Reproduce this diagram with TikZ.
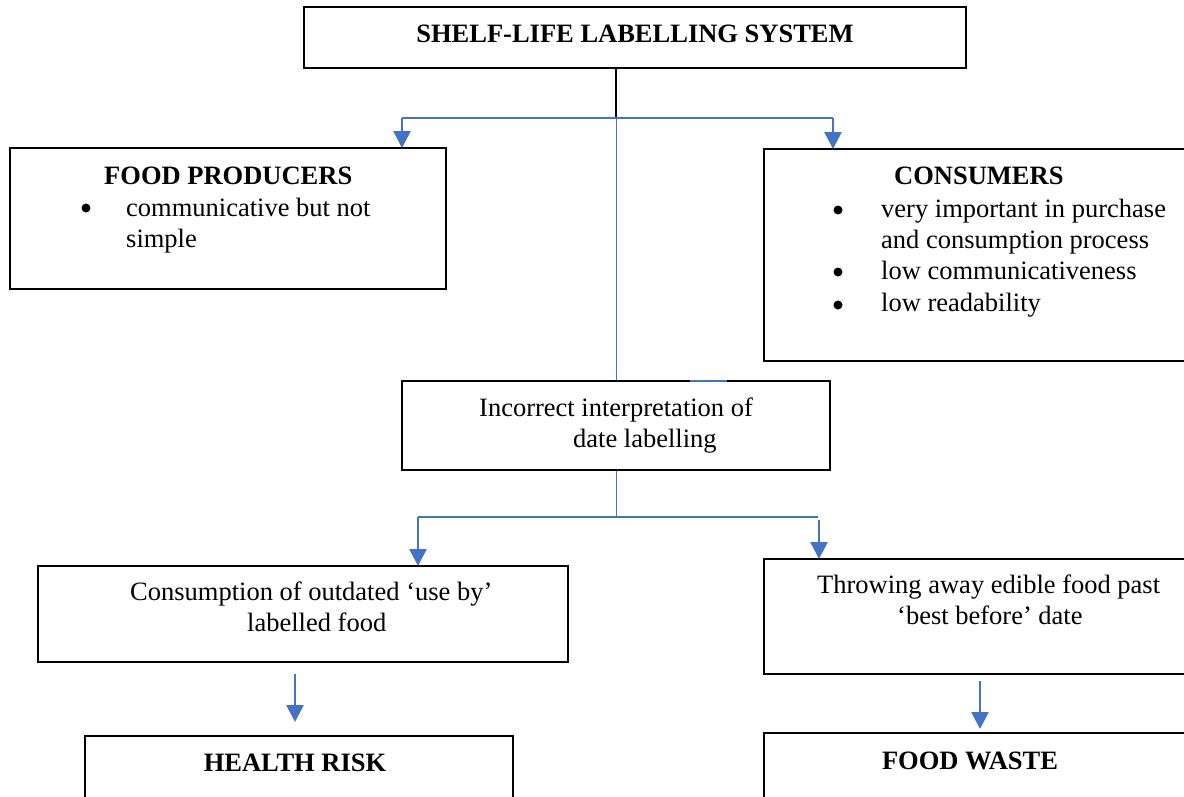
\documentclass[tikz,border=0pt]{standalone}
\usepackage{fontspec}
\setmainfont{Liberation Serif}
\usetikzlibrary{arrows.meta}
\definecolor{wblue}{HTML}{4472C4}
\tikzset{
  box/.style={draw=black, line width=1.3pt, rectangle, inner sep=0pt},
  txt/.style={inner sep=0pt, anchor=base west, font=\fontsize{26.5}{31}\selectfont},
  btxt/.style={txt, font=\fontsize{26.5}{31}\selectfont\bfseries},
  dot/.style={circle, fill=black, inner sep=0pt, minimum size=9pt},
  bl/.style={draw=wblue, line width=1.6pt},
  thin/.style={draw=wblue, line width=1pt},
  arr/.style={draw=wblue, line width=2.6pt, -{Triangle[length=17pt,width=17pt]}},
}
\begin{document}
\begin{tikzpicture}[x=1pt,y=-1pt]
\useasboundingbox (0,0) rectangle (1184,796);
\clip (0,0) rectangle (1184,796);
\fill[white] (0,0) rectangle (1184,796);
% boxes
\node[box, minimum width=662pt, minimum height=61pt] (top) at (635,37.5) {};
\node[box, minimum width=436pt, minimum height=141pt] (prod) at (228,218.5) {};
\node[box, minimum width=430pt, minimum height=212pt] (cons) at (979,255) {};
\node[box, minimum width=428pt, minimum height=89pt] (mid) at (616,425.5) {};
\node[box, minimum width=530pt, minimum height=96pt] (use) at (303,614) {};
\node[box, minimum width=430pt, minimum height=115pt] (throw) at (979,616.5) {};
\node[box, minimum width=428pt, minimum height=74pt] (health) at (299,773) {};
\node[box, minimum width=430pt, minimum height=77pt] (waste) at (979,771.5) {};
% texts
\node[btxt, anchor=base] (ttop) at (635,42) {SHELF-LIFE LABELLING SYSTEM};
\node[btxt] (tprod) at (104,184) {FOOD PRODUCERS};
\node[dot] (bp1) at (86,208) {};
\node[txt] (tp1) at (126,216) {communicative but not};
\node[txt] (tp2) at (126,247) {simple};
\node[btxt] (tcons) at (894,184) {CONSUMERS};
\node[dot] (bc1) at (838,210) {};
\node[txt] (tc1) at (881,217) {very important in purchase};
\node[txt] (tc2) at (881,248) {and consumption process};
\node[dot] (bc3) at (838,272) {};
\node[txt] (tc3) at (881,279) {low communicativeness};
\node[dot] (bc4) at (838,305) {};
\node[txt] (tc4) at (881,311) {low readability};
\node[txt] (tm1) at (479,416) {Incorrect interpretation of};
\node[txt] (tm2) at (573,447) {date labelling};
\node[txt] (tu1) at (130,600) {Consumption of outdated ‘use by’};
\node[txt] (tu2) at (247,631) {labelled food};
\node[txt] (tt1) at (817,593) {Throwing away edible food past};
\node[txt] (tt2) at (897,624) {‘best before’ date};
\node[btxt, anchor=base] (th) at (295,771) {HEALTH RISK};
\node[btxt, anchor=base] (tw) at (970,769) {FOOD WASTE};
% connector coordinates
\coordinate (j1) at (616,118);
\coordinate (pa) at (402,148);
\coordinate (ca) at (833,149);
\coordinate (j2) at (616,517);
\coordinate (ua) at (418,566);
\coordinate (tr) at (818,517);
\coordinate (ts) at (819,520);
\coordinate (tae) at (819,559);
\coordinate (hs) at (295,674);
\coordinate (he) at (295,722);
\coordinate (ws) at (980,681);
\coordinate (we) at (980,729);
\coordinate (m1) at (690,381);
\coordinate (m2) at (727,381);
% connectors
\draw[black, line width=1.3pt] (mid.north |- top.south) -- (j1);
\draw[bl] (pa |- j1) -- (ca |- j1);
\draw[arr] (pa |- j1) -- (pa);
\draw[arr] (ca |- j1) -- (ca);
\draw[thin] (j1) -- (mid.north);
\draw[bl] (m1) -- (m2);
\draw[thin] (mid.south) -- (j2);
\draw[bl] (ua |- j2) -- (tr);
\draw[arr] (ua |- j2) -- (ua);
\draw[arr] (ts) -- (tae);
\draw[arr] (hs) -- (he);
\draw[arr] (ws) -- (we);
\end{tikzpicture}
\end{document}
